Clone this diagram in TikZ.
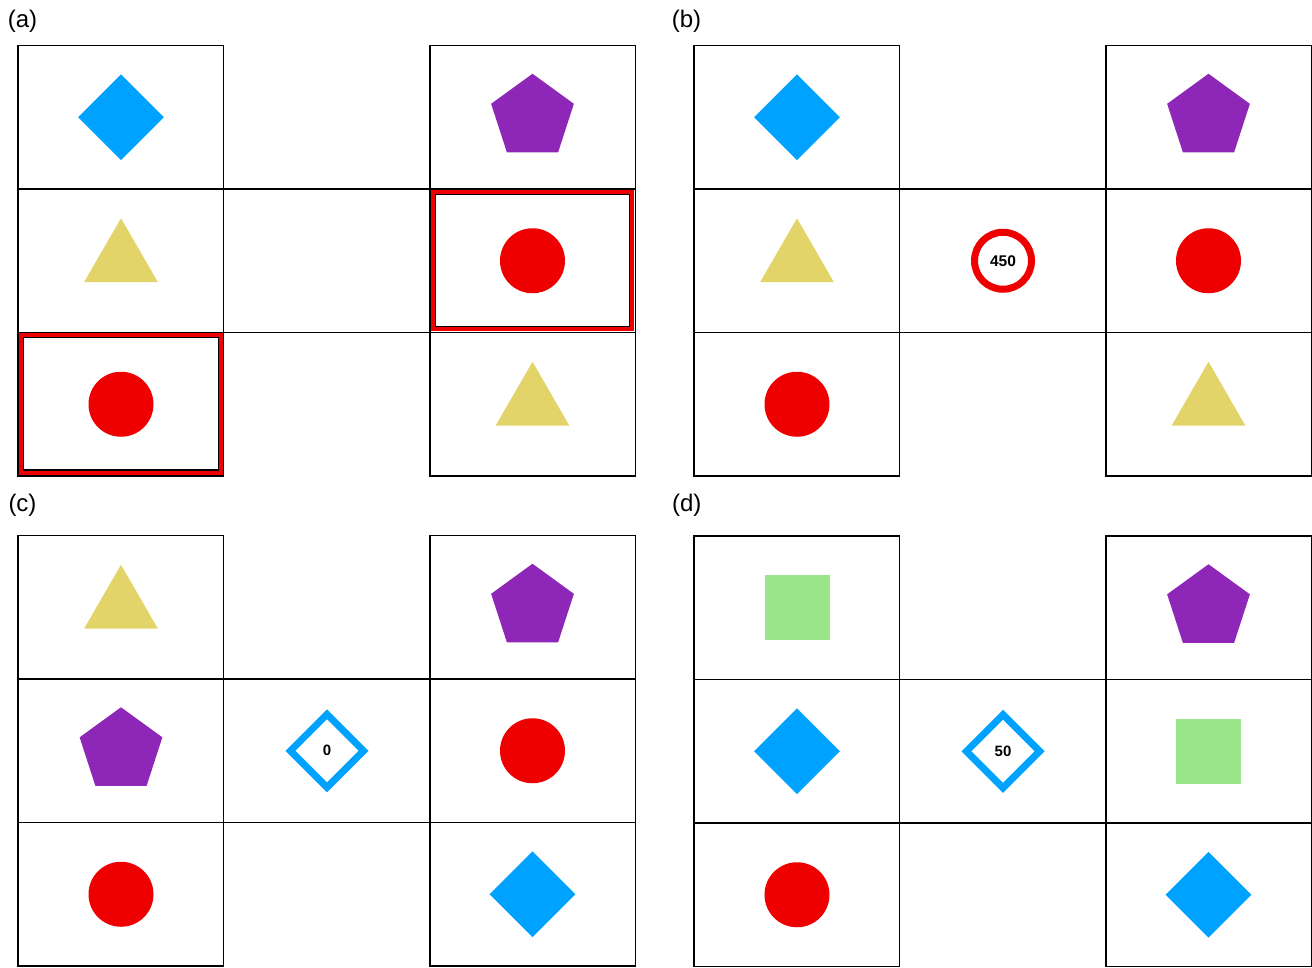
\documentclass[tikz,border=0pt]{standalone}
\usepackage{fontspec}
\setmainfont{Liberation Sans}
\usetikzlibrary{shapes.geometric}
\definecolor{cblue}{HTML}{00A2FF}
\definecolor{cpurple}{HTML}{8E27B8}
\definecolor{cyellow}{HTML}{E3D46A}
\definecolor{cred}{HTML}{EE0000}
\definecolor{cgreen}{HTML}{9BE68A}
\newcommand\gridpanel[2]{%
  \begin{scope}[shift={(#1,#2)}]
    \foreach \c in {0,412}{
      \foreach \r/\rr in {0/143.5,143.5/287,287/430.5}{
        \draw[cell] (\c,\r) rectangle (\c+205.5,\rr);
      }
    }
    \draw[cell] (205.5,143.5) -- (412,143.5);
    \draw[cell] (205.5,287) -- (412,287);
  \end{scope}}
\begin{document}
\begin{tikzpicture}[x=1pt,y=-1pt,
  cell/.style={draw=black, line width=1.3pt},
  dia/.style={diamond, fill=cblue, minimum width=86pt, minimum height=86pt, inner sep=0pt, aspect=1},
  pent/.style={regular polygon, regular polygon sides=5, fill=cpurple, minimum size=87pt, inner sep=0pt},
  tri/.style={regular polygon, regular polygon sides=3, fill=cyellow, minimum size=85pt, inner sep=0pt},
  dot/.style={circle, fill=cred, minimum size=65pt, inner sep=0pt},
  sq/.style={rectangle, fill=cgreen, minimum size=65pt, inner sep=0pt},
  ring/.style={circle, draw=cred, line width=7pt, minimum size=57pt, inner sep=0pt, font=\bfseries\fontsize{15.5}{16}\selectfont},
  odia/.style={diamond, draw=cblue, line width=7pt, minimum width=76pt, minimum height=76pt, aspect=1, inner sep=0pt, font=\bfseries\fontsize{15}{16}\selectfont},
  lab/.style={inner sep=0pt, font=\fontsize{24}{28}\selectfont},
  hired/.style={draw=cred, line width=4pt},
  hiblack/.style={draw=black, line width=1.2pt}
]
\useasboundingbox (0,0) rectangle (1312,967);
% labels
\node[lab] (la) at (22.5,21) {(a)};
\node[lab] (lb) at (686.5,21) {(b)};
\node[lab] (lc) at (22.5,505) {(c)};
\node[lab] (ld) at (686.7,505) {(d)};
% grids
\gridpanel{18}{45.5}
\gridpanel{694}{45.5}
\gridpanel{18}{535.5}
\gridpanel{694}{536}
% highlights in (a)
\draw[hired] (433,192) rectangle (632,329);
\draw[hiblack] (435.5,194.5) rectangle (629.5,326.5);
\draw[hired] (21,335) rectangle (221,472.5);
\draw[hiblack] (23.5,337.5) rectangle (218.5,470);
% panel (a)
\node[dia]  (a11) at (121,117.25) {};
\node[pent] (a13) at (532.5,117.25) {};
\node[tri]  (a21) at (121,260.75) {};
\node[dot]  (a23) at (532.5,260.75) {};
\node[dot]  (a31) at (121,404.25) {};
\node[tri]  (a33) at (532.5,404.25) {};
% panel (b)
\node[dia]  (b11) at (797,117.25) {};
\node[pent] (b13) at (1208.5,117.25) {};
\node[tri]  (b21) at (797,260.75) {};
\node[ring] (b22) at (1003,260.75) {450};
\node[dot]  (b23) at (1208.5,260.75) {};
\node[dot]  (b31) at (797,404.25) {};
\node[tri]  (b33) at (1208.5,404.25) {};
% panel (c)
\node[tri]  (c11) at (121,607.25) {};
\node[pent] (c13) at (532.5,607.25) {};
\node[pent] (c21) at (121,750.75) {};
\node[odia] (c22) at (327,750.75) {0};
\node[dot]  (c23) at (532.5,750.75) {};
\node[dot]  (c31) at (121,894.25) {};
\node[dia]  (c33) at (532.5,894.25) {};
% panel (d)
\node[sq]   (d11) at (797,607.75) {};
\node[pent] (d13) at (1208.5,607.75) {};
\node[dia]  (d21) at (797,751.25) {};
\node[odia] (d22) at (1003,751.25) {50};
\node[sq]   (d23) at (1208.5,751.25) {};
\node[dot]  (d31) at (797,894.75) {};
\node[dia]  (d33) at (1208.5,894.75) {};
\end{tikzpicture}
\end{document}
